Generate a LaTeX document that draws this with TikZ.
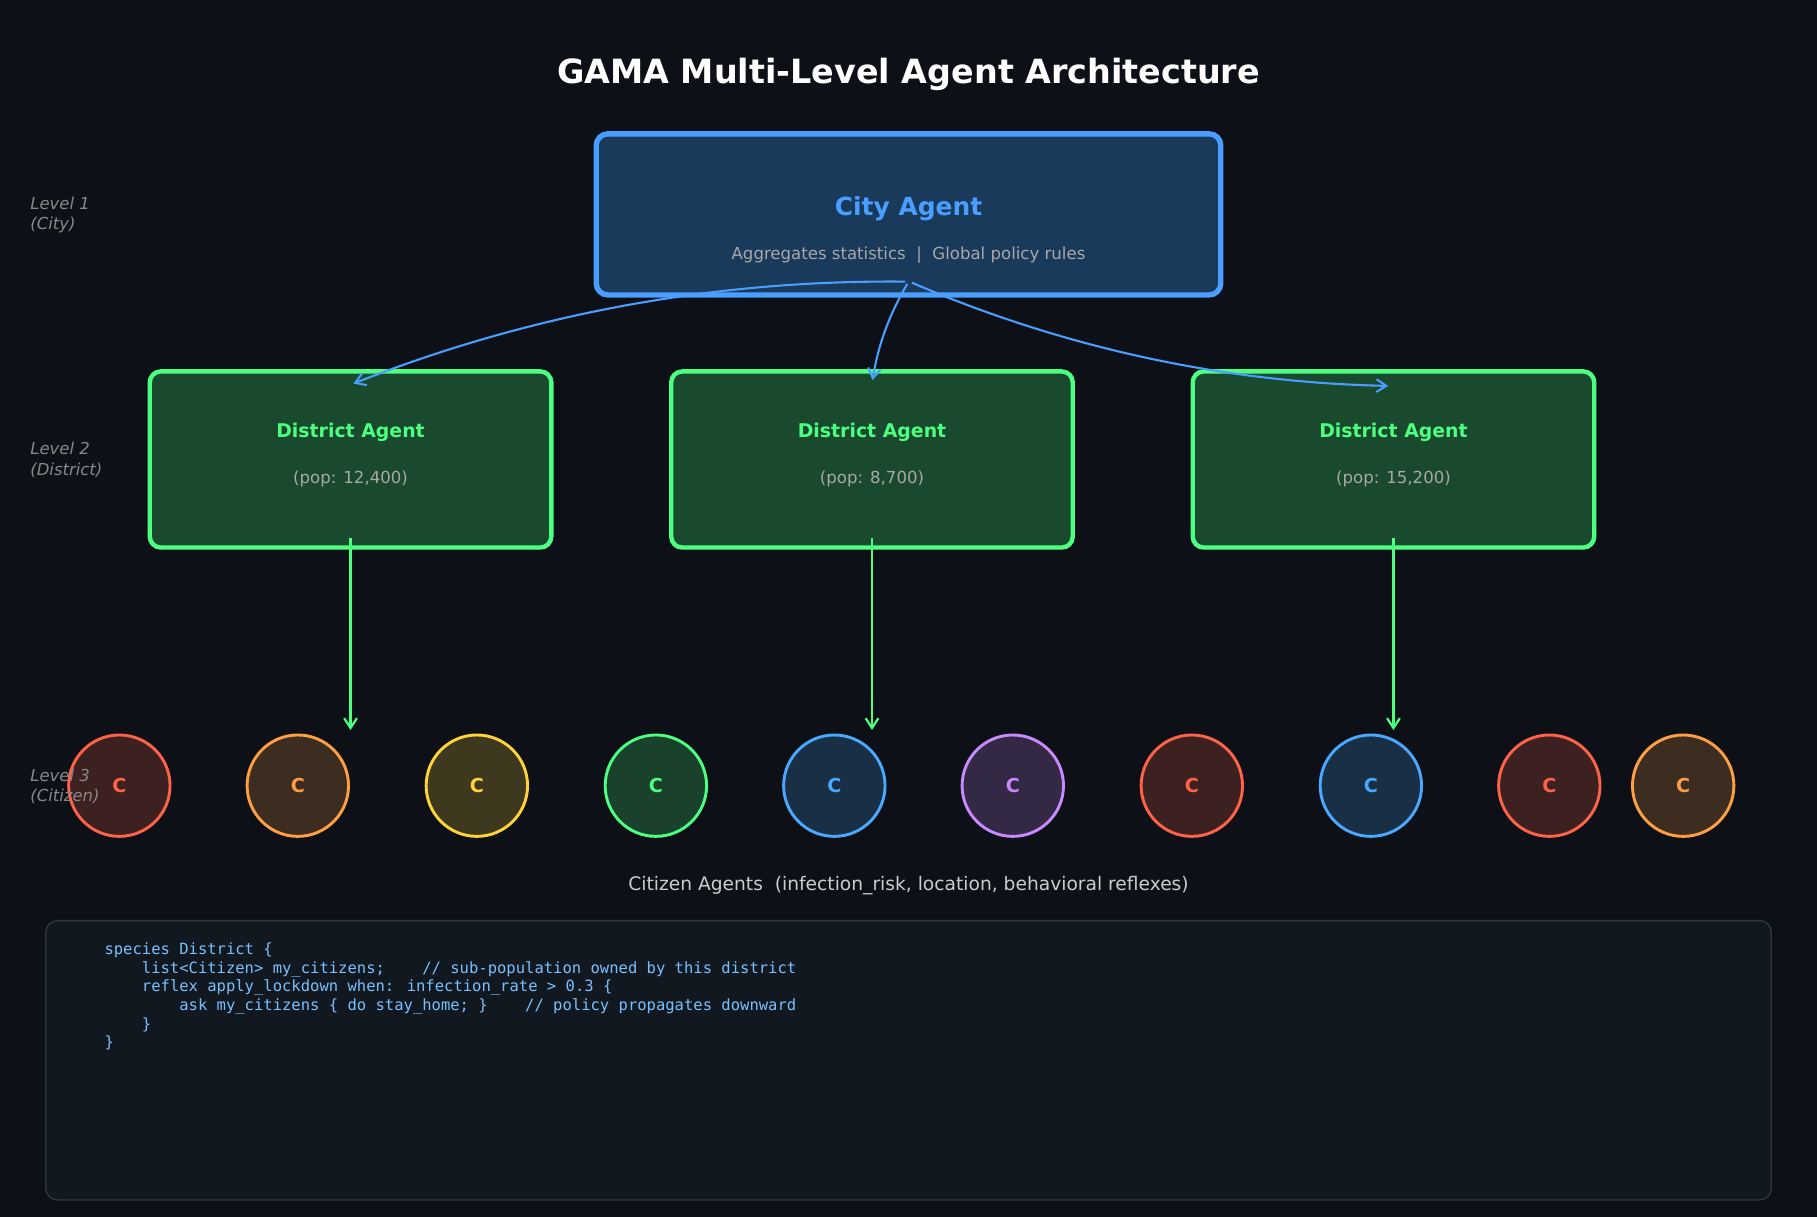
\documentclass[tikz,border=0pt]{standalone}
\usepackage{fontspec}
\setmainfont{DejaVu Sans}
\newfontfamily\codefont{DejaVu Sans Mono}
\usetikzlibrary{arrows.meta,calc}
\definecolor{bgc}{HTML}{0D1117}
\definecolor{cityf}{HTML}{1A3A5C}
\definecolor{cityb}{HTML}{4A9EFF}
\definecolor{distf}{HTML}{1A4A2E}
\definecolor{distb}{HTML}{4DFF80}
\definecolor{subc}{HTML}{A8A8A8}
\definecolor{lvlc}{HTML}{888888}
\definecolor{capc}{HTML}{CCCCCC}
\definecolor{codef}{HTML}{111820}
\definecolor{codeb}{HTML}{30363D}
\definecolor{codec}{HTML}{79C0FF}
\definecolor{cred}{HTML}{FF6347}
\definecolor{corange}{HTML}{FF9F43}
\definecolor{cyellow}{HTML}{FFD43B}
\definecolor{cgreen}{HTML}{4DFF80}
\definecolor{cblue}{HTML}{4AA8FF}
\definecolor{cpurple}{HTML}{C98AFF}
\tikzset{
  citybox/.style={draw=cityb, fill=cityf, line width=4.6pt, rounded corners=10pt, minimum width=539pt, minimum height=139pt, inner sep=0pt},
  distbox/.style={draw=distb, fill=distf, line width=3.8pt, rounded corners=9.5pt, minimum width=346.5pt, minimum height=152pt, inner sep=0pt},
  cit/.style={circle, minimum size=87.5pt, inner sep=0pt, line width=2.5pt, draw=#1, fill=#1!20!bgc, text=#1, font=\bfseries\fontsize{16.5}{20}\selectfont},
  lvl/.style={anchor=west, align=left, text=lvlc, font=\itshape\fontsize{14.2}{17.7}\selectfont, inner sep=0pt},
  blu/.style={draw=cityb, line width=1.8pt, -{Straight Barb[length=8.5pt,width=11pt]}},
  grn/.style={draw=distb, line width=1.9pt, -{Straight Barb[length=8.5pt,width=11pt]}},
  codeline/.style={anchor=base west, inner sep=0pt, text=codec, font=\codefont\fontsize{13.4}{16}\selectfont},
  dtitle/.style={inner sep=0pt, text=distb, font=\bfseries\fontsize{16.3}{19}\selectfont},
  dsub/.style={inner sep=0pt, text=subc, font=\fontsize{14.3}{17}\selectfont},
}
\begin{document}
\begin{tikzpicture}[x=1pt,y=1pt]
\useasboundingbox (0,0) rectangle (1568,-1050);
\fill[bgc] (0,0) rectangle (1568,-1050);

% title
\node[inner sep=0pt, text=white, font=\bfseries\fontsize{28.8}{34}\selectfont] (title) at (784,-64.5) {GAMA Multi-Level Agent Architecture};

% city
\node[citybox] (city) at (784,-185) {};
\node[inner sep=0pt, text=cityb, font=\bfseries\fontsize{21.5}{26}\selectfont] (citytitle) at (784,-180.5) {City Agent};
\node[inner sep=0pt, text=subc, font=\fontsize{14.3}{17}\selectfont] (citysub) at (784,-220.5) {Aggregates statistics~~|~~Global policy rules};

% districts
\node[distbox] (d1) at (302.5,-396.5) {};
\node[distbox] (d2) at (752.5,-396.5) {};
\node[distbox] (d3) at (1202.5,-396.5) {};
\node[dtitle] (d1t) at (302.5,-373.5) {District Agent};
\node[dtitle] (d2t) at (752.5,-373.5) {District Agent};
\node[dtitle] (d3t) at (1202.5,-373.5) {District Agent};
\node[dsub] (d1s) at (302.5,-413.5) {(pop: 12,400)};
\node[dsub] (d2s) at (752.5,-413.5) {(pop: 8,700)};
\node[dsub] (d3s) at (1202.5,-413.5) {(pop: 15,200)};

% citizens
\node[cit=cred] (c1) at (103,-678) {C};
\node[cit=corange] (c2) at (257,-678) {C};
\node[cit=cyellow] (c3) at (411.5,-678) {C};
\node[cit=cgreen] (c4) at (566,-678) {C};
\node[cit=cblue] (c5) at (720,-678) {C};
\node[cit=cpurple] (c6) at (874,-678) {C};
\node[cit=cred] (c7) at (1028.5,-678) {C};
\node[cit=cblue] (c8) at (1183,-678) {C};
\node[cit=cred] (c9) at (1337,-678) {C};
\node[cit=corange] (c10) at (1452.5,-678) {C};

% connector ends
\coordinate (cL) at ($(city.center)+(-3,-58)$);
\coordinate (cM) at ($(city.center)+(-1,-60)$);
\coordinate (cR) at ($(city.center)+(3,-59)$);
\coordinate (d1in) at ($(d1.center)+(2.5,65.5)$);
\coordinate (d2in) at ($(d2.center)+(0.5,68.5)$);
\coordinate (d3in) at ($(d3.center)+(-4.5,63.5)$);
\coordinate (d1out) at ($(d1.center)+(0,-67.5)$);
\coordinate (d2out) at ($(d2.center)+(0,-67.5)$);
\coordinate (d3out) at ($(d3.center)+(0,-67.5)$);
\coordinate (c2in) at ($(d1.center)+(0,-233.5)$);
\coordinate (c5in) at ($(d2.center)+(0,-233.5)$);
\coordinate (c8in) at ($(d3.center)+(0,-233.5)$);

\draw[blu] (cL) to[bend right=11, looseness=0.87] (d1in);
\draw[blu] (cM) to[bend right=11, looseness=0.87] (d2in);
\draw[blu] (cR) to[bend right=11, looseness=0.87] (d3in);
\draw[grn] (d1out) -- (c2in);
\draw[grn] (d2out) -- (c5in);
\draw[grn] (d3out) -- (c8in);

% level labels
\node[lvl] (l1) at (26,-185.5) {Level 1\\(City)};
\node[lvl] (l2) at (26,-397) {Level 2\\(District)};
\node[lvl] (l3) at (26,-678.5) {Level 3\\(Citizen)};

% caption
\node[inner sep=0pt, text=capc, font=\fontsize{16.1}{19}\selectfont] (caption) at (784,-764) {Citizen Agents~~(infection\_risk, location, behavioral reflexes)};

% code box
\draw[draw=codeb, fill=codef, line width=1.2pt, rounded corners=10pt] (39.5,-794.5) rectangle (1528.5,-1035.5);
\node[codeline] (code1) at (90,-824) {species District \{};
\node[codeline] (code2) at (90,-840) {\hphantom{0000}list<Citizen> my\_citizens;\hphantom{0000}// sub-population owned by this district};
\node[codeline] (code3) at (90,-856) {\hphantom{0000}reflex apply\_lockdown when: infection\_rate > 0.3 \{};
\node[codeline] (code4) at (90,-872) {\hphantom{00000000}ask my\_citizens \{ do stay\_home; \}\hphantom{0000}// policy propagates downward};
\node[codeline] (code5) at (90,-888) {\hphantom{0000}\}};
\node[codeline] (code6) at (90,-904) {\}};
\end{tikzpicture}
\end{document}
